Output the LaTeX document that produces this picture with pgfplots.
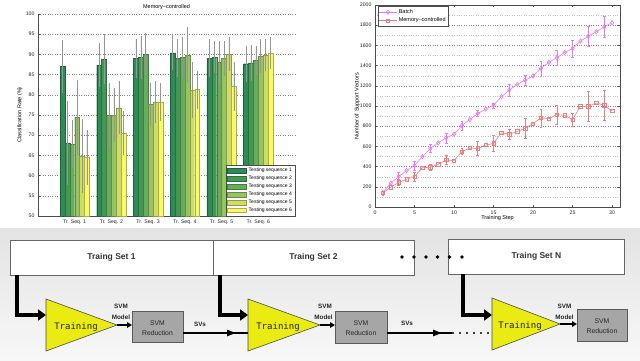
\documentclass[border=0pt]{standalone}
\usepackage{pgfplots}
\pgfplotsset{compat=1.18}
\usepackage{fontspec}
\setmainfont{Liberation Sans}
\newfontfamily\monofont{DejaVu Sans Mono}
\usetikzlibrary{arrows.meta}
\definecolor{c1}{RGB}{46,139,87}
\definecolor{c2}{RGB}{66,153,87}
\definecolor{c3}{RGB}{102,173,92}
\definecolor{c4}{RGB}{150,196,100}
\definecolor{c5}{RGB}{204,222,102}
\definecolor{c6}{RGB}{250,250,105}
\definecolor{batch}{RGB}{232,120,240}
\definecolor{memc}{RGB}{240,125,125}
\definecolor{tri}{RGB}{235,235,20}
\definecolor{errgray}{RGB}{150,150,150}
\begin{document}
\begin{tikzpicture}
\fill[white] (0,0) rectangle (640pt,-360pt);
\useasboundingbox (0,0) rectangle (640pt,-360pt);
\shade[top color=black!11, bottom color=black!3] (0pt,-228pt) rectangle (640pt,-360pt);

% ---------------- Bar chart ----------------
\begin{axis}[
  at={(38pt,-216pt)}, anchor=south west,
  scale only axis, width=257pt, height=202pt,
  xmin=0, xmax=7, ymin=50, ymax=100,
  ybar=0pt, bar width=4.9pt,
  xtick={1,...,6},
  xticklabels={Tr. Seq. 1,Tr. Seq. 2,Tr. Seq. 3,Tr. Seq. 4,Tr. Seq. 5,Tr. Seq. 6},
  ytick={50,55,...,100},
  axis x line=bottom, axis y line=left,
  axis line style={-, black!70, line width=0.5pt},
  x tick style={draw=none},
  y tick style={black!70, line width=0.4pt},
  tick align=inside, major tick length=2pt,
  ymajorgrids, grid style={dotted, black!50, line width=0.45pt},
  tick label style={font=\fontsize{5.2}{6}\selectfont, text=black!85},
  /pgf/number format/assume math mode=true,
  title={Memory--controlled},
  title style={font=\fontsize{5.5}{6}\selectfont, at={(axis description cs:0.5,1)}, anchor=center, inner sep=0pt, yshift=1pt},
  ylabel={Classification Rate (\%)},
  ylabel style={font=\fontsize{5.5}{6}\selectfont, at={(axis description cs:-0.07,0.5)}, anchor=center},
  legend style={font=\fontsize{5}{6}\selectfont, at={(1,0)}, anchor=south east, draw=black!70, inner sep=1pt, row sep=-1.2pt},
  legend cell align=left,
  legend image code/.code={\draw[#1] (0pt,-2.4pt) rectangle (19pt,2.4pt);},
  error bars/y dir=both, error bars/y explicit,
  error bars/error mark=none,
  error bars/error bar style={errgray, line width=0.5pt},
]
\addplot[fill=c1, draw=c1!70!black, line width=0.3pt] coordinates {(1,87.0)+-(0,6.5) (2,87.4)+-(0,5.4) (3,89.0)+-(0,4.8) (4,90.4)+-(0,4.3) (5,89.0)+-(0,4.7) (6,87.7)+-(0,4.5)};
\addlegendentry{Testing sequence 1}
\addplot[fill=c2, draw=c2!70!black, line width=0.3pt] coordinates {(1,68.1)+-(0,10.4) (2,88.8)+-(0,6.2) (3,89.2)+-(0,5.3) (4,89.0)+-(0,4.7) (5,89.4)+-(0,3.9) (6,87.9)+-(0,4.5)};
\addlegendentry{Testing sequence 2}
\addplot[fill=c3, draw=c3!70!black, line width=0.3pt] coordinates {(1,67.8)+-(0,6.0) (2,75.0)+-(0,7.8) (3,90.0)+-(0,5.2) (4,89.3)+-(0,5.1) (5,88.1)+-(0,5.1) (6,88.5)+-(0,3.5)};
\addlegendentry{Testing sequence 3}
\addplot[fill=c4, draw=c4!70!black, line width=0.3pt] coordinates {(1,74.4)+-(0,9.3) (2,75.0)+-(0,6.8) (3,77.7)+-(0,5.3) (4,89.8)+-(0,7.0) (5,89.0)+-(0,4.3) (6,89.6)+-(0,4.2)};
\addlegendentry{Testing sequence 4}
\addplot[fill=c5, draw=c5!70!black, line width=0.3pt] coordinates {(1,64.8)+-(0,9.2) (2,76.8)+-(0,6.6) (3,78.2)+-(0,5.3) (4,81.2)+-(0,6.9) (5,90.0)+-(0,4.2) (6,89.8)+-(0,4.0)};
\addlegendentry{Testing sequence 5}
\addplot[fill=c6, draw=c6!70!black, line width=0.3pt] coordinates {(1,64.5)+-(0,6.8) (2,70.5)+-(0,5.5) (3,78.3)+-(0,4.7) (4,81.3)+-(0,4.7) (5,82.1)+-(0,6.1) (6,90.4)+-(0,4.0)};
\addlegendentry{Testing sequence 6}
\end{axis}

% ---------------- Line chart ----------------
\begin{axis}[
  at={(375pt,-207pt)}, anchor=south west,
  scale only axis, width=245pt, height=202pt,
  xmin=0, xmax=31, ymin=0, ymax=2000,
  xtick={0,5,...,30}, ytick={0,200,...,2000},
  minor y tick num=1,
  ymajorgrids, yminorgrids,
  major grid style={dotted, black!50, line width=0.45pt},
  minor grid style={dotted, black!25, line width=0.4pt},
  axis line style={black!70, line width=0.5pt},
  every tick/.style={black!70, line width=0.4pt},
  tick align=inside, major tick length=2pt, minor tick length=0pt,
  tick label style={font=\fontsize{5.2}{6}\selectfont, text=black!85},
  /pgf/number format/assume math mode=true,
  /pgf/number format/1000 sep={},
  xlabel={Training Step}, ylabel={Number of Support Vectors},
  label style={font=\fontsize{5.5}{6}\selectfont},
  ylabel style={at={(axis description cs:-0.073,0.5)}, anchor=center},
  xlabel style={at={(axis description cs:0.5,-0.054)}, anchor=center},
  legend style={font=\fontsize{5.5}{6}\selectfont, at={(axis description cs:0.012,0.994)}, anchor=north west, draw=black!70, inner sep=1pt, row sep=-1pt},
  legend cell align=left,
]
\addplot[batch, line width=0.6pt, mark=diamond, mark size=2.2pt, mark options={solid, fill=none}] coordinates {
(1,144) (2,236) (3,302) (4,361) (5,410) (6,498) (7,580) (8,636) (9,685) (10,721)
(11,807) (12,866) (13,925) (14,970) (15,1007) (16,1092) (17,1158) (18,1214) (19,1257) (20,1297)
(21,1372) (22,1432) (23,1478) (24,1530) (25,1570) (26,1643) (27,1692) (28,1735) (29,1784) (30,1824)};
\addlegendentry{Batch}
\addplot[memc, line width=0.6pt, mark=square, mark size=1.7pt, mark options={solid, fill=none}] coordinates {
(1,138) (2,197) (3,243) (4,275) (5,302) (6,390) (7,393) (8,423) (9,466) (10,459)
(11,548) (12,584) (13,580) (14,613) (15,630) (16,734) (17,721) (18,748) (19,780) (20,826)
(21,882) (22,875) (23,915) (24,908) (25,866) (26,997) (27,997) (28,1030) (29,1007) (30,951)};
\addlegendentry{Memory--controlled}
\addplot[draw=none, mark=none, forget plot, error bars/.cd, y dir=both, y explicit, error mark=-, error mark options={rotate=90, batch, mark size=1.4pt, line width=0.5pt}, error bar style={draw=batch, line width=0.5pt}] coordinates {
(1,144)+-(0,15) (3,302)+-(0,40) (5,410)+-(0,45) (7,580)+-(0,40) (9,685)+-(0,50) (11,807)+-(0,45) (13,925)+-(0,30) (15,1007)+-(0,25)
(17,1158)+-(0,60) (19,1257)+-(0,50) (21,1372)+-(0,75) (23,1478)+-(0,75) (25,1570)+-(0,85) (27,1692)+-(0,100) (29,1784)+-(0,100)};
\addplot[draw=none, mark=none, forget plot, error bars/.cd, y dir=both, y explicit, error mark=-, error mark options={rotate=90, memc, mark size=1.4pt, line width=0.5pt}, error bar style={draw=memc, line width=0.5pt}] coordinates {
(1,138)+-(0,20) (3,243)+-(0,30) (5,302)+-(0,45) (7,393)+-(0,30) (9,466)+-(0,45) (11,548)+-(0,30) (13,580)+-(0,70) (15,630)+-(0,80)
(17,721)+-(0,50) (19,780)+-(0,95) (21,882)+-(0,90) (23,915)+-(0,95) (25,866)+-(0,65) (27,997)+-(0,145) (29,1007)+-(0,145)};
\end{axis}

% ---------------- Diagram ----------------
\begin{scope}[x=1pt,y=-1pt]
\tikzset{setbox/.style={draw=black!60, fill=white, line width=0.6pt},
         redbox/.style={fill=black!35, draw=black!65, line width=0.6pt},
         trian/.style={fill=tri, draw=black!70, line width=0.6pt},
         settext/.style={font=\fontsize{8.5}{10}\selectfont\bfseries, text=black!80},
         redtext/.style={font=\fontsize{6.8}{10}\selectfont, align=center, text=black!85},
         lbl/.style={font=\fontsize{6.3}{7}\selectfont\bfseries, text=black!85, inner sep=0pt},
         trtext/.style={font=\monofont\fontsize{9}{10}\selectfont, text=black!85},
         thick arrow/.style={line width=4.5pt, -{Triangle[length=8pt,width=11pt]}},
         thin arrow/.style={line width=1.8pt, -{Triangle[length=5pt,width=5.5pt]}}}
\draw[setbox] (10,240) rectangle (213,275);
\draw[setbox] (213,240) rectangle (414,275);
\draw[setbox] (448,239) rectangle (624,274);
\node[settext] at (111.5,257.5) {Traing Set 1};
\node[settext] at (313.5,257.5) {Traing Set 2};
\node[settext] at (536.5,256.5) {Traing Set N};
\foreach \x in {402,414,426,437.5,449.5,462} \fill[black] (\x,257) circle[radius=1.9pt];

\draw[thick arrow] (17,275) |- (46,315);
\draw[thick arrow] (220,275) |- (248,315);
\draw[thick arrow] (463,274) |- (492,315);

\filldraw[trian] (46,299) -- (117,325) -- (46,351) -- cycle;
\filldraw[trian] (248,299) -- (320,325) -- (248,351) -- cycle;
\filldraw[trian] (492,298) -- (560,324) -- (492,350) -- cycle;
\node[trtext] at (76,327) {Training};
\node[trtext] at (278,327) {Training};
\node[trtext] at (520,326) {Training};

\draw[thin arrow] (117,325) -- (132,325);
\draw[thin arrow] (320,325) -- (335,325);
\draw[thin arrow] (560,324) -- (577,324);

\filldraw[redbox] (132,311) rectangle (183,342);
\filldraw[redbox] (335,311) rectangle (387,343);
\filldraw[redbox] (577,309) rectangle (627,341);
\node[redtext] at (157.5,328) {SVM\\Reduction};
\node[redtext] at (361,328.5) {SVM\\Reduction};
\node[redtext] at (602,326) {SVM\\Reduction};

\node[lbl] at (121,306.5) {SVM};
\node[lbl] at (121,317.5) {Model};
\node[lbl] at (325,306.5) {SVM};
\node[lbl] at (323.5,317.5) {Model};
\node[lbl] at (564.5,306) {SVM};
\node[lbl] at (564.5,317) {Model};
\node[lbl] at (200,324) {SVs};
\node[lbl] at (407,323) {SVs};

\draw[line width=2.2pt, -{Triangle[length=9pt,width=6pt]}] (183,333) -- (236,333);
\draw[line width=1.1pt] (232,333) -- (248,333);
\draw[line width=2.2pt, -{Triangle[length=9pt,width=6pt]}] (387,333) -- (442,333);
\draw[line width=1.1pt] (438,333) -- (452,333);
\foreach \x in {453,460,467,474,481,488} \fill[black] (\x,333) circle[radius=1.2pt];
\end{scope}
\end{tikzpicture}
\end{document}
